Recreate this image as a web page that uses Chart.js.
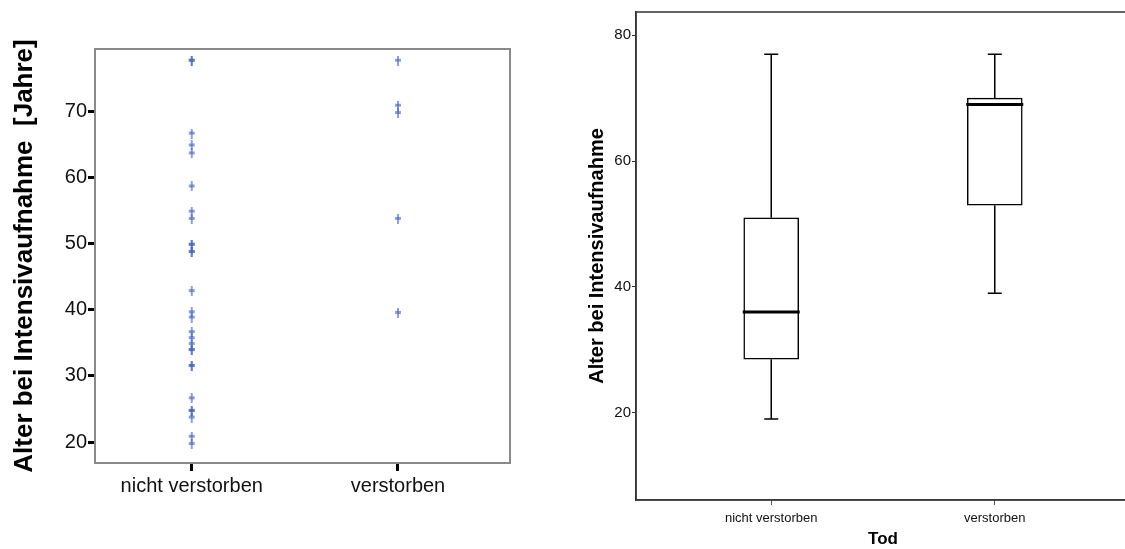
<!DOCTYPE html>
<html>
<head>
<meta charset="utf-8">
<script src="https://cdn.jsdelivr.net/npm/chart.js@4.4.1/dist/chart.umd.min.js"></script>
<style>
  html, body { margin: 0; padding: 0; background: #fff; overflow: hidden; }
  #stripChart { position: absolute; left: 0; top: 0; }
  #boxChart { position: absolute; left: 560px; top: 0; }
</style>
</head>
<body>
<canvas id="stripChart" width="540" height="549"></canvas>
<canvas id="boxChart" width="600" height="549"></canvas>
<script>
// Alter bei Intensivaufnahme, getrennt nach Outcome
const groups = ["nicht verstorben", "verstorben"];
const ageAlive = [77.6, 77.6, 66.6, 64.8, 63.6, 58.6, 54.8, 53.7, 49.8, 49.8, 48.7, 48.7,
  42.8, 39.6, 38.8, 36.6, 35.7, 34.8, 33.9, 33.9, 31.5, 31.5, 26.6, 24.7, 24.7, 23.7, 20.8, 19.7];
const ageDead = [77.6, 70.8, 69.7, 53.7, 39.5];
const stripTicks = [20, 30, 40, 50, 60, 70];

// Boxplot-Kennwerte je Gruppe
const boxMin = [19, 39];
const boxQ1 = [28.5, 53];
const boxMedian = [36, 69];
const boxQ3 = [51, 70];
const boxMax = [77, 77];
const boxTicks = [20, 40, 60, 80];

const sans = "'Liberation Sans', Arial, sans-serif";

// kleines Kreuz-Symbol fuer die Einzelwerte
function makeMarker() {
  const c = document.createElement("canvas");
  c.width = 8;
  c.height = 10;
  const g = c.getContext("2d");
  g.fillStyle = "rgba(70, 100, 185, 0.6)";
  g.fillRect(3, 0, 2, 10);
  g.fillRect(1, 3, 6, 3);
  return c;
}
const marker = makeMarker();

// Rahmen um die Plotflaeche
const frame = {
  id: "frame",
  afterDraw(chart, args, opts) {
    const { ctx, chartArea: a } = chart;
    ctx.save();
    ctx.strokeStyle = opts.color;
    ctx.lineWidth = opts.width;
    ctx.strokeRect(a.left, a.top, a.right - a.left, a.bottom - a.top);
    ctx.restore();
  },
};

// Whisker, Caps und Median fuer den Boxplot
const whiskers = {
  id: "whiskers",
  afterDatasetsDraw(chart) {
    const { ctx, scales: { x, y } } = chart;
    const half = chart.getDatasetMeta(0).data[0].width / 2;
    ctx.save();
    ctx.strokeStyle = "#000";
    groups.forEach((g, i) => {
      const cx = x.getPixelForValue(i);
      ctx.lineWidth = 1.5;
      ctx.beginPath();
      ctx.moveTo(cx, y.getPixelForValue(boxQ3[i]));
      ctx.lineTo(cx, y.getPixelForValue(boxMax[i]));
      ctx.moveTo(cx, y.getPixelForValue(boxQ1[i]));
      ctx.lineTo(cx, y.getPixelForValue(boxMin[i]));
      ctx.moveTo(cx - 7, y.getPixelForValue(boxMax[i]));
      ctx.lineTo(cx + 7, y.getPixelForValue(boxMax[i]));
      ctx.moveTo(cx - 7, y.getPixelForValue(boxMin[i]));
      ctx.lineTo(cx + 7, y.getPixelForValue(boxMin[i]));
      ctx.stroke();
      ctx.lineWidth = 3;
      ctx.beginPath();
      ctx.moveTo(cx - half - 1, y.getPixelForValue(boxMedian[i]));
      ctx.lineTo(cx + half + 1, y.getPixelForValue(boxMedian[i]));
      ctx.stroke();
    });
    ctx.restore();
  },
};

function groupTicks(axis) {
  axis.ticks = groups.map((g, i) => ({ value: i }));
}

new Chart(document.getElementById("stripChart"), {
  type: "scatter",
  data: {
    datasets: [
      {
        data: ageAlive.map((v) => ({ x: 0, y: v })),
        pointStyle: marker,
      },
      {
        data: ageDead.map((v) => ({ x: 1, y: v })),
        pointStyle: marker,
      },
    ],
  },
  options: {
    responsive: false,
    animation: false,
    layout: { padding: { top: 49, right: 30, left: 0, bottom: 0 } },
    plugins: {
      legend: { display: false },
      tooltip: { enabled: false },
      frame: { color: "#8a8a8a", width: 2 },
    },
    scales: {
      x: {
        type: "linear",
        min: -0.469,
        max: 1.543,
        afterBuildTicks: groupTicks,
        afterFit: (s) => { s.height = 86; },
        grid: { drawOnChartArea: false, tickLength: 8, tickWidth: 3, tickColor: "#000" },
        border: { color: "#8a8a8a", width: 2 },
        ticks: {
          callback: (v) => groups[v],
          font: { family: sans, size: 20 },
          color: "#111",
          padding: 3,
          maxRotation: 0,
        },
      },
      y: {
        min: 16.83,
        max: 79.37,
        afterBuildTicks: (axis) => { axis.ticks = stripTicks.map((v) => ({ value: v })); },
        afterFit: (s) => { s.width = 95; },
        grid: { drawOnChartArea: false, tickLength: 7, tickWidth: 3, tickColor: "#000" },
        border: { color: "#8a8a8a", width: 2 },
        ticks: { font: { family: sans, size: 20 }, color: "#111", padding: 1 },
        title: {
          display: true,
          text: "Alter bei Intensivaufnahme  [Jahre]",
          font: { family: sans, size: 26, weight: "bold" },
          color: "#000",
          padding: { top: 9, bottom: 0 },
        },
      },
    },
  },
  plugins: [frame],
});

new Chart(document.getElementById("boxChart"), {
  type: "bar",
  data: {
    datasets: [
      {
        data: groups.map((g, i) => ({ x: i, y: [boxQ1[i], boxQ3[i]] })),
        backgroundColor: "#fff",
        borderColor: "#000",
        borderWidth: 1.5,
        borderSkipped: false,
        barThickness: 55,
      },
    ],
  },
  options: {
    responsive: false,
    animation: false,
    layout: { padding: { top: 12, right: 30, left: 0, bottom: 0 } },
    plugins: {
      legend: { display: false },
      tooltip: { enabled: false },
      frame: { color: "#333", width: 1.5 },
    },
    scales: {
      x: {
        type: "linear",
        offset: false,
        min: -0.605,
        max: 1.605,
        afterBuildTicks: groupTicks,
        afterFit: (s) => { s.height = 49; },
        grid: { offset: false, drawOnChartArea: false, tickLength: 5, tickWidth: 1, tickColor: "#555" },
        border: { color: "#555", width: 1.5 },
        ticks: {
          callback: (v) => groups[v],
          font: { family: sans, size: 13 },
          color: "#111",
          padding: 6,
          maxRotation: 0,
        },
        title: {
          display: true,
          text: "Tod",
          font: { family: sans, size: 17, weight: "bold", lineHeight: 1 },
          color: "#000",
          padding: { top: 0, bottom: 1 },
        },
      },
      y: {
        min: 6.13,
        max: 83.7,
        afterBuildTicks: (axis) => { axis.ticks = boxTicks.map((v) => ({ value: v })); },
        afterFit: (s) => { s.width = 76; },
        grid: { drawOnChartArea: false, tickLength: 4, tickWidth: 1, tickColor: "#333" },
        border: { color: "#333", width: 1.5 },
        ticks: { font: { family: sans, size: 15 }, color: "#111", padding: 1 },
        title: {
          display: true,
          text: "Alter bei Intensivaufnahme",
          font: { family: sans, size: 20, weight: "bold" },
          color: "#000",
          padding: { top: 25, bottom: 0 },
        },
      },
    },
  },
  plugins: [frame, whiskers],
});
</script>
</body>
</html>
